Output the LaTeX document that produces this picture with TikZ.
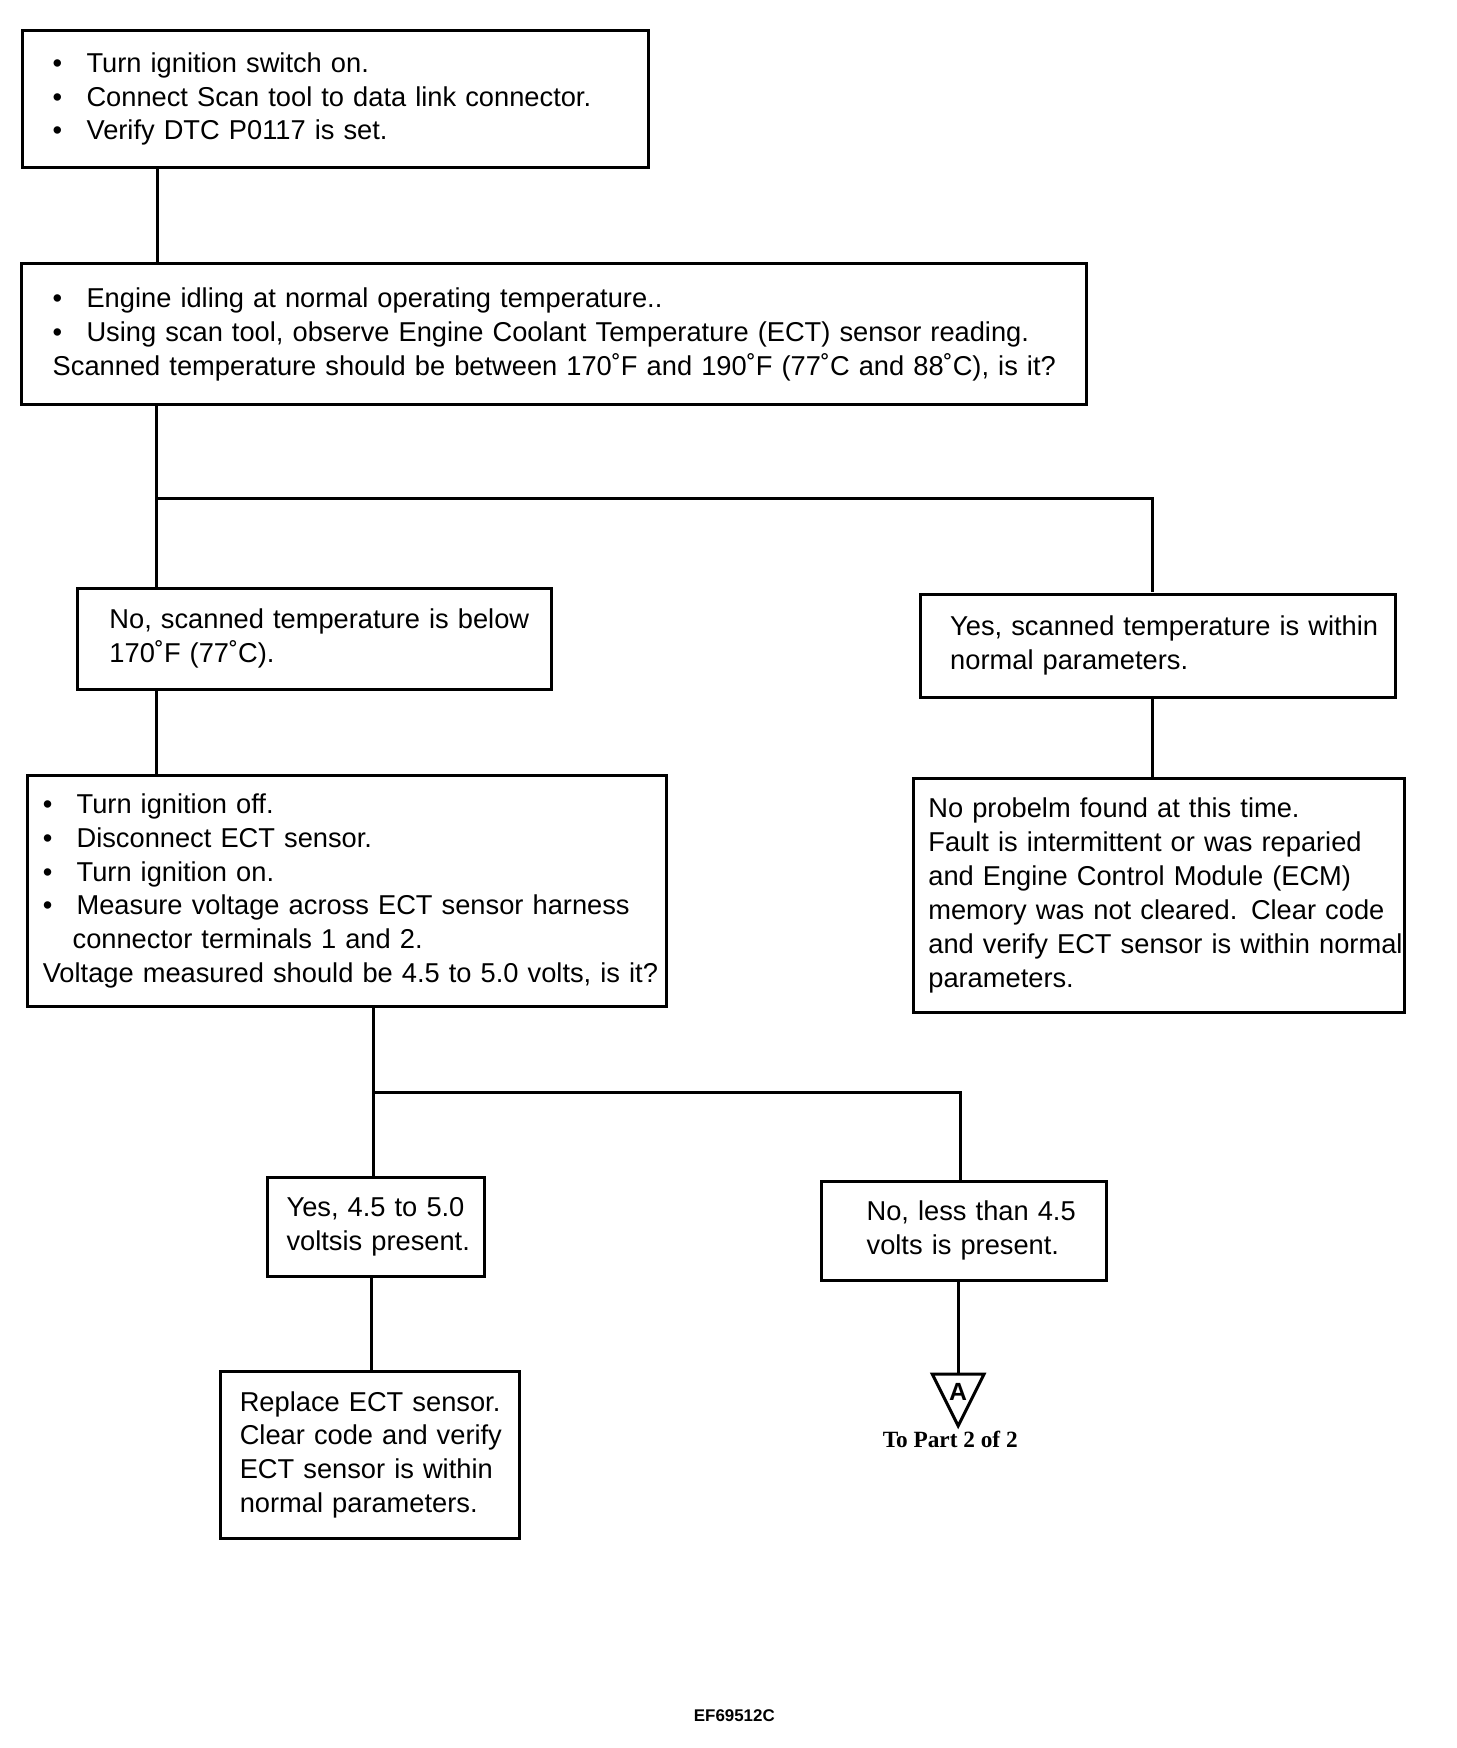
\documentclass[tikz,border=0pt]{standalone}
\usepackage{fontspec}
\setmainfont{Liberation Sans}
\newfontfamily\serifface{Liberation Serif}
\newcommand{\bul}[1]{\mbox{\makebox[17pt][l]{\textbullet}#1}}
\tikzset{
  box/.style={draw, line width=1.5pt, rectangle, inner ysep=0pt, align=left,
    font=\fontsize{13.7}{17}\selectfont},
  conn/.style={line width=1.5pt},
}
\begin{document}
\begin{tikzpicture}[x=0.5pt,y=-0.5pt]
\useasboundingbox[fill=white] (0,0) rectangle (1456,1748);
\begin{scope}[scale=0.995, transform shape]

\node[box, minimum width=314.5pt, minimum height=68.5pt, text width=284.5pt, inner xsep=15pt] (b1) at (337.5,99.5)
 {\bul{Turn ignition switch on.}\\\bul{Connect Scan tool to data link connector.}\\\bul{Verify DTC P0117 is set.}};

\node[box, minimum width=535pt, minimum height=71pt, text width=504pt, inner xsep=15.5pt] (b2) at (557,336)
 {\bul{Engine idling at normal operating temperature..}\\\bul{Using scan tool, observe Engine Coolant Temperature (ECT) sensor reading.}\\\mbox{Scanned temperature should be between 170˚F and 190˚F (77˚C and 88˚C), is it?}};

\node[box, minimum width=238pt, minimum height=51pt, text width=206pt, inner xsep=16pt] (b3) at (316,642)
 {\mbox{No, scanned temperature is below}\\\mbox{170˚F (77˚C).}};

\node[box, minimum width=238.5pt, minimum height=52pt, text width=208.5pt, inner xsep=15pt] (b4) at (1163.5,649)
 {\mbox{Yes, scanned temperature is within}\\\mbox{normal parameters.}};

\node[box, minimum width=321pt, minimum height=116.5pt, text width=306pt, inner xsep=7.5pt] (b5) at (349,895.5)
 {\bul{Turn ignition off.}\\\bul{Disconnect ECT sensor.}\\\bul{Turn ignition on.}\\\bul{Measure voltage across ECT sensor harness}\\\mbox{\hspace*{15pt}connector terminals 1 and 2.}\\\mbox{Voltage measured should be 4.5 to 5.0 volts, is it?}};

\node[box, minimum width=247pt, minimum height=117.5pt, text width=232pt, inner xsep=7.5pt] (b6) at (1165,900)
 {\mbox{No probelm found at this time.}\\\mbox{Fault is intermittent or was reparied}\\\mbox{and Engine Control Module (ECM)}\\\mbox{memory was not cleared. Clear code}\\\mbox{and verify ECT sensor is within normal}\\\mbox{parameters.}};

\node[box, minimum width=109pt, minimum height=50pt, text width=90pt, inner xsep=9.5pt] (b7) at (378,1233)
 {\mbox{Yes, 4.5 to 5.0}\\\mbox{voltsis present.}};

\node[box, minimum width=143pt, minimum height=50pt, text width=98pt, inner xsep=22.5pt] (b8) at (969,1237)
 {\mbox{No, less than 4.5}\\\mbox{volts is present.}};

\node[box, minimum width=150pt, minimum height=84pt, text width=131pt, inner xsep=9.5pt] (b9) at (372,1462)
 {\mbox{Replace ECT sensor.}\\\mbox{Clear code and verify}\\\mbox{ECT sensor is within}\\\mbox{normal parameters.}};

% off-page connector
\coordinate (tritop) at (963,1381);
\draw[line width=1.5pt, line join=miter] (937,1381) -- (989,1381) -- (963,1433) -- cycle;
\node[inner sep=0pt, font=\fontsize{12.5}{12}\selectfont\bfseries] (A) at (963,1399) {A};
\node[inner sep=0pt, anchor=base, font=\fontsize{11.7}{12}\serifface\bfseries] (topart) at (955,1455) {To Part 2 of 2};

\node[inner sep=0pt, font=\fontsize{8.5}{9}\selectfont\bfseries] (code) at (738,1724) {EF69512C};

% connectors
\coordinate (x1) at (158,0);
\coordinate (x2) at (157,0);
\coordinate (j1) at (157,501);
\coordinate (j1r) at (1158,501);
\coordinate (x3) at (375,0);
\coordinate (j2) at (375,1098);
\coordinate (j2r) at (965,1098);
\coordinate (x4) at (373,0);
\coordinate (x5) at (963,0);

\draw[conn] (b1.south -| x1) -- (b2.north -| x1);
\draw[conn] (b2.south -| x2) -- (b3.north -| x2);
\draw[conn] (j1) -- (j1r) -- (b4.north -| j1r);
\draw[conn] (b3.south -| x2) -- (b5.north -| x2);
\draw[conn] (b4.south -| j1r) -- (b6.north -| j1r);
\draw[conn] (b5.south -| x3) -- (b7.north -| x3);
\draw[conn] (j2) -- (j2r) -- (b8.north -| j2r);
\draw[conn] (b7.south -| x4) -- (b9.north -| x4);
\draw[conn] (b8.south -| x5) -- (tritop);
\end{scope}
\end{tikzpicture}
\end{document}
